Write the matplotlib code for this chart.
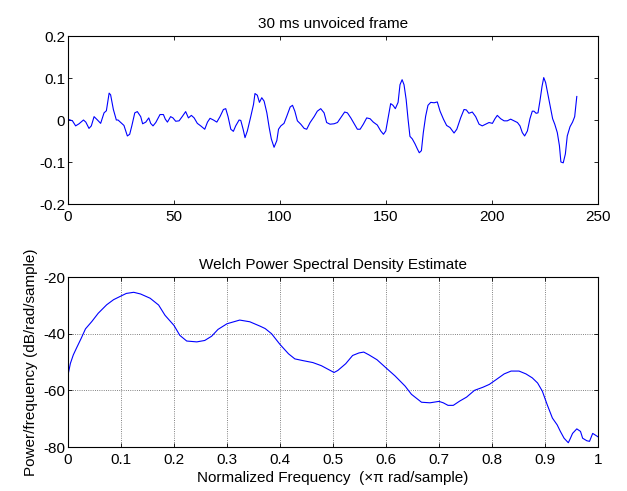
import matplotlib
matplotlib.use("Agg")
import matplotlib.pyplot as plt

plt.rcParams['font.family'] = ['Liberation Sans', 'DejaVu Sans']
plt.rcParams['axes.unicode_minus'] = False

# ---- top: 30 ms unvoiced frame (sample index, amplitude) ----
frame_n = [0.0, 1.0, 2.1, 3.6, 5.2, 7.3, 8.4, 9.9, 11.0, 12.3, 13.9, 15.4, 17.0, 18.1, 19.4, 20.1,
           21.4, 22.8, 23.6, 24.9, 26.4, 28.0, 29.1, 30.1, 31.5, 32.7, 34.3, 35.2, 36.7, 38.1, 39.0,
           40.1, 41.4, 43.4, 45.0, 45.9, 46.9, 48.4, 49.5, 50.8, 52.4, 54.0, 55.5, 56.8, 58.2, 59.5,
           61.0, 62.6, 64.5, 65.8, 67.0, 68.6, 70.2, 71.7, 73.3, 74.4, 75.5, 76.8, 78.0, 79.1, 80.7,
           81.5, 82.6, 83.5, 84.6, 86.2, 87.5, 88.2, 89.3, 90.3, 91.4, 92.5, 93.8, 94.9, 95.9, 97.2,
           98.5, 99.3, 100.4, 101.9, 103.2, 104.8, 105.9, 107.0, 108.2, 109.8, 111.4, 112.6, 114.2,
           116.1, 117.6, 119.2, 120.8, 122.0, 123.6, 125.5, 127.1, 128.6, 130.5, 131.8, 133.4, 134.9,
           136.5, 137.8, 139.3, 140.9, 142.5, 144.0, 145.9, 147.5, 148.8, 149.9, 151.1, 152.2, 153.3,
           154.4, 155.7, 156.6, 157.6, 158.5, 159.5, 160.4, 161.3, 162.4, 163.7, 164.8, 165.7, 166.7,
           167.6, 168.7, 169.8, 171.1, 172.7, 174.2, 175.5, 177.1, 178.6, 180.2, 182.1, 183.4, 185.2,
           186.8, 187.9, 189.1, 190.7, 192.3, 193.9, 195.4, 197.0, 198.6, 200.2, 201.4, 202.5, 204.1,
           205.7, 207.2, 208.8, 210.4, 212.0, 213.2, 214.3, 215.4, 216.7, 217.9, 219.0, 219.8, 220.8,
           221.7, 222.6, 223.6, 224.4, 225.3, 226.4, 227.7, 228.6, 229.6, 230.8, 231.8, 232.5, 233.6,
           234.6, 235.5, 236.8, 238.0, 239.0, 240.0]
frame_amp = [0.002, 0.0, -0.002, -0.014, -0.009, 0.0, -0.005, -0.020, -0.014, 0.008, 0.0, -0.008,
             0.017, 0.022, 0.064, 0.060, 0.025, 0.0, 0.0, -0.006, -0.013, -0.038, -0.034, -0.014,
             0.017, 0.020, 0.008, -0.009, -0.005, 0.005, -0.008, -0.014, -0.006, 0.013, 0.013, 0.002,
             -0.005, 0.008, 0.005, -0.003, -0.002, 0.009, 0.020, 0.005, 0.011, 0.005, -0.008, -0.014,
             -0.022, -0.005, 0.004, 0.0, -0.005, 0.008, 0.025, 0.027, 0.008, -0.022, -0.027, -0.014,
             0.0, -0.001, -0.022, -0.042, -0.026, 0.008, 0.037, 0.063, 0.059, 0.042, 0.053, 0.045,
             0.017, -0.018, -0.045, -0.065, -0.049, -0.022, -0.014, -0.008, 0.009, 0.031, 0.035,
             0.021, -0.002, -0.010, -0.020, -0.022, -0.006, 0.008, 0.021, 0.027, 0.017, -0.006,
             -0.010, -0.009, -0.006, 0.005, 0.019, 0.017, 0.005, -0.008, -0.022, -0.022, -0.010,
             0.005, 0.003, -0.005, -0.012, -0.026, -0.034, -0.026, 0.008, 0.039, 0.035, 0.027, 0.042,
             0.084, 0.096, 0.084, 0.049, 0.002, -0.039, -0.045, -0.057, -0.069, -0.078, -0.073,
             -0.030, 0.009, 0.035, 0.042, 0.041, 0.043, 0.021, 0.002, -0.013, -0.018, -0.031, -0.022,
             0.005, 0.025, 0.024, 0.016, 0.019, 0.008, -0.010, -0.014, -0.010, -0.006, -0.008, 0.003,
             0.011, 0.003, -0.002, -0.002, 0.002, -0.002, -0.006, -0.014, -0.030, -0.038, -0.026,
             0.003, 0.021, 0.021, 0.016, 0.017, 0.045, 0.080, 0.101, 0.089, 0.060, 0.025, 0.003,
             -0.010, -0.030, -0.061, -0.100, -0.102, -0.081, -0.038, -0.016, -0.005, 0.008, 0.056]

# ---- bottom: Welch PSD (normalized frequency, dB/rad/sample) ----
psd_f = [0.000, 0.0045, 0.010, 0.016, 0.025, 0.033, 0.045, 0.057, 0.073, 0.086, 0.099, 0.110,
         0.124, 0.137, 0.155, 0.171, 0.183, 0.200, 0.211, 0.224, 0.243, 0.258, 0.271, 0.283,
         0.300, 0.324, 0.343, 0.363, 0.372, 0.384, 0.400, 0.416, 0.428, 0.443, 0.462, 0.478,
         0.493, 0.502, 0.509, 0.524, 0.537, 0.549, 0.558, 0.568, 0.583, 0.599, 0.617, 0.636,
         0.648, 0.667, 0.683, 0.700, 0.708, 0.717, 0.727, 0.739, 0.752, 0.767, 0.783, 0.795,
         0.808, 0.823, 0.836, 0.851, 0.864, 0.876, 0.886, 0.895, 0.904, 0.914, 0.923, 0.929,
         0.936, 0.944, 0.948, 0.952, 0.960, 0.967, 0.971, 0.979, 0.984, 0.990, 0.995, 1.000]
psd_db = [-54.6, -50.5, -47.5, -45.1, -41.6, -38.3, -35.7, -32.8, -29.8, -28.0, -26.8, -25.8,
          -25.4, -26.0, -27.5, -29.9, -33.5, -37.1, -40.6, -42.6, -42.9, -42.4, -40.9, -38.5,
          -36.5, -35.2, -35.8, -37.4, -38.2, -40.0, -43.8, -47.1, -48.9, -49.5, -50.2, -51.3,
          -52.8, -53.7, -53.0, -50.6, -47.7, -46.8, -46.5, -47.5, -49.2, -51.9, -54.9, -58.5,
          -61.4, -64.2, -64.4, -63.9, -64.4, -65.3, -65.3, -63.8, -62.4, -60.0, -58.9, -57.9,
          -56.2, -54.2, -53.2, -53.2, -54.2, -55.6, -57.4, -60.3, -65.0, -69.8, -72.2, -74.5,
          -76.9, -78.5, -76.9, -75.2, -73.6, -74.5, -76.9, -77.8, -78.0, -75.2, -75.8, -76.4]

top_xticks = [0, 50, 100, 150, 200, 250]
top_yticks = [-0.2, -0.1, 0, 0.1, 0.2]
top_yticklabels = ['-0.2', '-0.1', '0', '0.1', '0.2']
bot_xticks = [0, 0.1, 0.2, 0.3, 0.4, 0.5, 0.6, 0.7, 0.8, 0.9, 1]
bot_xticklabels = ['0', '0.1', '0.2', '0.3', '0.4', '0.5', '0.6', '0.7', '0.8', '0.9', '1']
bot_yticks = [-80, -60, -40, -20]

fig = plt.figure(figsize=(6.27, 4.91), dpi=100)
W, H = 627, 491
left = 68 / W
width = (598 - 68) / W
ax1 = fig.add_axes([left, 1 - 204 / H, width, (204 - 36) / H])
ax2 = fig.add_axes([left, 1 - 447 / H, width, (447 - 277) / H])

fs = 11
for ax in (ax1, ax2):
    ax.tick_params(direction='in', top=True, right=True, labelsize=fs, length=3, width=0.6,
                   colors='black')
    ax.tick_params(axis='x', pad=4)
    ax.tick_params(axis='y', pad=2)
    for s in ax.spines.values():
        s.set_linewidth(0.8)

ax1.plot(frame_n, frame_amp, color=(0, 0, 1), lw=0.8)
ax1.set_xlim(0, 250)
ax1.set_ylim(-0.2, 0.2)
ax1.set_xticks(top_xticks)
ax1.set_xticklabels([str(t) for t in top_xticks])
ax1.set_yticks(top_yticks)
ax1.set_yticklabels(top_yticklabels)
ax1.set_title('30 ms unvoiced frame', fontsize=fs, pad=6)

ax2.plot(psd_f, psd_db, color=(0, 0, 1), lw=0.8)
ax2.set_xlim(0, 1)
ax2.set_ylim(-80, -20)
ax2.set_xticks(bot_xticks)
ax2.set_xticklabels(bot_xticklabels)
ax2.set_yticks(bot_yticks)
ax2.set_yticklabels([str(t) for t in bot_yticks])
ax2.grid(True, linestyle=':', color=(0.35, 0.35, 0.35), linewidth=0.6)
ax2.set_axisbelow(True)
ax2.set_title('Welch Power Spectral Density Estimate', fontsize=fs, pad=6)
ax2.set_xlabel('Normalized Frequency  (\u00d7\u03c0 rad/sample)', fontsize=fs, labelpad=3)
ax2.set_ylabel('Power/frequency (dB/rad/sample)', fontsize=fs, labelpad=4)

fig.savefig('out.png', dpi=100)
